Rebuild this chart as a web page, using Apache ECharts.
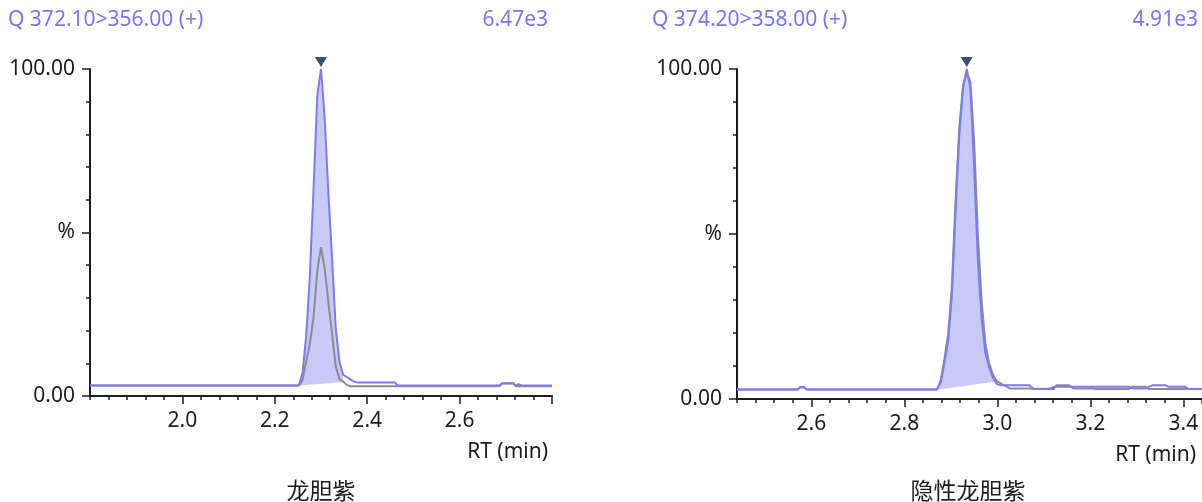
<!DOCTYPE html>
<html>
<head>
<meta charset="utf-8">
<script src="https://cdn.jsdelivr.net/npm/echarts@6/dist/echarts.min.js"></script>
<style>
html, body { margin: 0; padding: 0; background: #fff; }
#main { width: 1202px; height: 502px; }
</style>
</head>
<body>
<div id="main"></div>
<script>
// 龙胆紫 : RT (min) and intensity (%)
const leftQuanRt  = [1.80, 2.252, 2.260, 2.268, 2.276, 2.284, 2.292, 2.300, 2.308, 2.316, 2.324, 2.332, 2.340, 2.348, 2.356, 2.364, 2.372, 2.380, 2.460, 2.466, 2.686, 2.692, 2.716, 2.722, 2.728, 2.734, 2.80];
const leftQuanVal = [3.2, 3.2, 7, 18.5, 37, 64, 92, 100, 85, 62, 42, 20.5, 10.4, 6.5, 5.8, 5.0, 4.4, 4.1, 4.1, 3.2, 3.2, 3.9, 3.9, 3.2, 3.6, 3.2, 3.2];
const leftQualRt  = [1.80, 2.252, 2.260, 2.268, 2.276, 2.284, 2.292, 2.300, 2.308, 2.316, 2.324, 2.332, 2.340, 2.348, 2.356, 2.364, 2.686, 2.692, 2.716, 2.722, 2.80];
const leftQualVal = [3.2, 3.2, 4.8, 10.6, 16, 24.3, 38.3, 45.5, 39, 28.6, 18.9, 9, 5.1, 4.4, 3.4, 3.0, 3.0, 3.8, 3.8, 3.0, 3.0];
const leftBase = [2.254, 3.2, 2.348, 4.3];   // integration baseline start/end
const leftApex = [2.300, 100];
const leftMajors = [2.0, 2.2, 2.4, 2.6, 2.8];
const leftLabels = [2.0, 2.2, 2.4, 2.6];

// 隐性龙胆紫
const rightQuanRt  = [2.44, 2.570, 2.576, 2.584, 2.590, 2.870, 2.878, 2.886, 2.894, 2.902, 2.910, 2.918, 2.926, 2.934, 2.942, 2.950, 2.958, 2.966, 2.974, 2.982, 2.990, 2.998, 3.006, 3.068, 3.078, 3.112, 3.121, 3.283, 3.291, 3.319, 3.334, 3.361, 3.368, 3.404, 3.410, 3.44];
const rightQuanVal = [2.9, 2.9, 3.6, 3.6, 2.9, 2.9, 5, 11, 17.5, 31, 57, 80, 94, 100, 94, 70, 42, 24.5, 14, 9.8, 6.5, 4.6, 4.2, 4.2, 3.1, 3.1, 3.7, 3.7, 3.2, 3.2, 4.2, 4.2, 3.7, 3.7, 3.0, 3.0];
const rightQualRt  = [2.44, 2.570, 2.576, 2.584, 2.590, 2.870, 2.878, 2.886, 2.894, 2.902, 2.910, 2.918, 2.926, 2.934, 2.942, 2.950, 2.958, 2.966, 2.974, 2.982, 2.990, 2.998, 3.006, 3.021, 3.027, 3.070, 3.078, 3.121, 3.127, 3.153, 3.163, 3.206, 3.212, 3.283, 3.290, 3.319, 3.326, 3.44];
const rightQualVal = [2.9, 2.9, 3.5, 3.5, 2.9, 2.9, 5.5, 12, 19.5, 34, 60, 82, 95, 99, 96, 78, 50, 30, 17, 11, 7.5, 5.5, 4.8, 3.7, 3.2, 3.2, 3.0, 3.0, 4.2, 4.2, 3.2, 3.2, 3.0, 3.0, 3.7, 3.7, 3.0, 3.0];
const rightBase = [2.874, 2.9, 2.993, 5.2];
const rightApex = [2.934, 100];
const rightMajors = [2.6, 2.8, 3.0, 3.2, 3.4];
const rightLabels = [2.6, 2.8, 3.0, 3.2, 3.4];

const FONT = "'Noto Sans', 'Noto Sans CJK SC', sans-serif";
const BLUE = '#7b7bf5';
const FILL = '#c9c9f8';
const GRAY = '#8c8c8c';
const INK = '#1c1c1c';
const HEAD = '#7878ee';

function pairs(rt, val) {
  return rt.map((t, i) => [t, val[i]]);
}

function interp(rt, val, t) {
  for (let i = 1; i < rt.length; i++) {
    if (rt[i] >= t) {
      const f = (t - rt[i - 1]) / (rt[i] - rt[i - 1]);
      return val[i - 1] + f * (val[i] - val[i - 1]);
    }
  }
  return val[val.length - 1];
}

// shaded peak area between the trace and the straight integration baseline
function peakFill(rt, val, base) {
  return function (params, api) {
    const pts = [api.coord([base[0], base[1]])];
    rt.forEach((t, i) => {
      if (t > base[0] && t < base[2]) pts.push(api.coord([t, val[i]]));
    });
    pts.push(api.coord([base[2], interp(rt, val, base[2])]));
    pts.push(api.coord([base[2], base[3]]));
    return { type: 'polygon', shape: { points: pts }, style: { fill: FILL } };
  };
}

function xAxes(grid, min, max, majors, labels) {
  return [
    {
      gridIndex: grid, type: 'value', min: min, max: max, interval: 0.04,
      axisLine: { lineStyle: { color: INK, width: 2 } },
      axisTick: { length: 4, lineStyle: { color: INK, width: 1.5 } },
      axisLabel: { show: false },
      splitLine: { show: false }
    },
    {
      gridIndex: grid, type: 'value', min: min, max: max, position: 'bottom',
      axisLine: { show: false },
      axisTick: { customValues: majors, length: 8, lineStyle: { color: INK, width: 1.5 } },
      axisLabel: { customValues: labels, margin: 15, color: INK, fontSize: 21, fontFamily: FONT,
        formatter: v => v.toFixed(1) },
      splitLine: { show: false },
      name: 'RT (min)', nameLocation: 'end', nameGap: grid === 0 ? -4 : -6,
      nameTextStyle: { color: INK, fontSize: 21, fontFamily: FONT, align: 'right',
        verticalAlign: 'top', padding: [46, 0, 0, 0] }
    }
  ];
}

function yAxis(grid) {
  return {
    gridIndex: grid, type: 'value', min: 0, max: 100, interval: 50,
    axisLine: { show: true, lineStyle: { color: INK, width: 2 } },
    axisTick: { show: true, length: 8, lineStyle: { color: INK, width: 1.5 } },
    minorTick: { show: true, splitNumber: 5, length: 4, lineStyle: { color: INK, width: 1.5 } },
    axisLabel: { color: INK, fontSize: 21, fontFamily: FONT, margin: 15,
      formatter: v => v === 100 ? '100.00' : v === 50 ? '%' : v === 0 ? '0.00' : '' },
    splitLine: { show: false },
    minorSplitLine: { show: false }
  };
}

function panelSeries(xi, yi, quanRt, quanVal, qualRt, qualVal, base, apex) {
  return [
    { type: 'custom', xAxisIndex: xi, yAxisIndex: yi, data: [base.slice(0, 2)],
      renderItem: peakFill(quanRt, quanVal, base), silent: true, z: 1 },
    { type: 'line', xAxisIndex: xi, yAxisIndex: yi, data: pairs(qualRt, qualVal),
      showSymbol: false, lineStyle: { color: GRAY, width: 2 }, z: 2 },
    { type: 'line', xAxisIndex: xi, yAxisIndex: yi, data: pairs(quanRt, quanVal),
      showSymbol: false, lineStyle: { color: BLUE, width: 2 }, z: 3 },
    { type: 'scatter', xAxisIndex: xi, yAxisIndex: yi, data: [apex],
      symbol: 'triangle', symbolRotate: 180, symbolSize: [12, 10], symbolOffset: [0, -7],
      itemStyle: { color: '#0f1f55' }, z: 4 }
  ];
}

function text(x, y, str, color, size, align) {
  return { type: 'text', x: x, y: y,
    style: { text: str, fill: color, font: size + 'px ' + FONT, align: align, verticalAlign: 'middle' } };
}

const chart = echarts.init(document.getElementById('main'));
chart.setOption({
  animation: false,
  backgroundColor: '#fff',
  grid: [
    { left: 90, top: 69, width: 462, height: 327 },
    { left: 737, top: 69, width: 470, height: 330 }
  ],
  xAxis: xAxes(0, 1.8, 2.8, leftMajors, leftLabels).concat(xAxes(1, 2.44, 3.44, rightMajors, rightLabels)),
  yAxis: [yAxis(0), yAxis(1)],
  series: panelSeries(0, 0, leftQuanRt, leftQuanVal, leftQualRt, leftQualVal, leftBase, leftApex)
    .concat(panelSeries(2, 1, rightQuanRt, rightQuanVal, rightQualRt, rightQualVal, rightBase, rightApex)),
  graphic: [
    text(8, 20, 'Q 372.10>356.00 (+)', HEAD, 21, 'left'),
    text(548, 20, '6.47e3', HEAD, 21, 'right'),
    text(652, 20, 'Q 374.20>358.00 (+)', HEAD, 21, 'left'),
    text(1198, 20, '4.91e3', HEAD, 21, 'right'),
    text(321, 492, '龙胆紫', INK, 23, 'center'),
    text(968, 492, '隐性龙胆紫', INK, 23, 'center')
  ]
});
</script>
</body>
</html>
